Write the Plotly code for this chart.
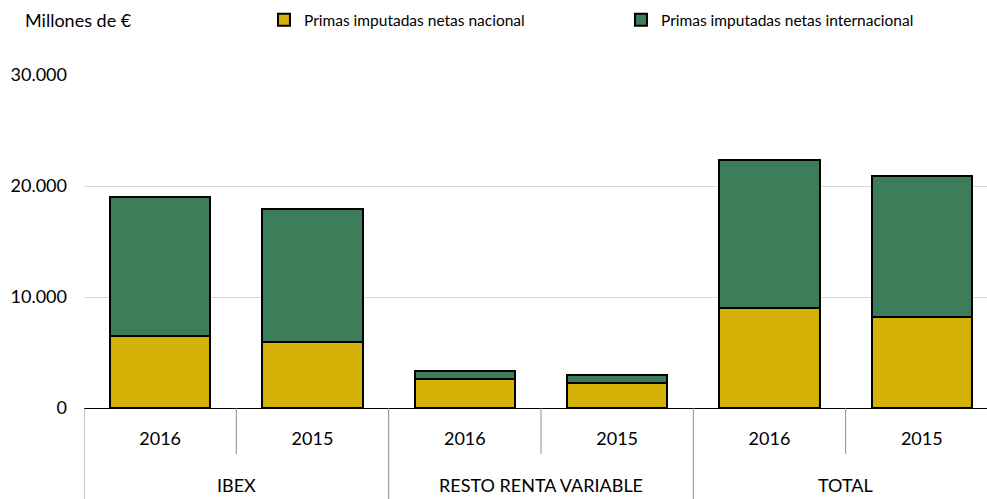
import plotly.graph_objects as go

# Grupos y años del eje X
groups = ["IBEX", "IBEX", "RESTO RENTA VARIABLE", "RESTO RENTA VARIABLE", "TOTAL", "TOTAL"]
years = ["2016", "2015", "2016", "2015", "2016", "2015"]

# Primas imputadas netas (millones de €)
nacional = [6450, 5950, 2580, 2220, 9030, 8170]
internacional = [12550, 11980, 720, 720, 13270, 12700]

y_ticks = [0, 10000, 20000, 30000]

GOLD = "#D3B107"
GREEN = "#3E7D5A"
SEP = "#8C8C8C"
FONT = "Lato"

# Categorías únicas (grupo + año); las etiquetas visibles son solo los años
cats = [f"{g} {y}" for g, y in zip(groups, years)]

fig = go.Figure()
fig.add_trace(go.Bar(
    x=cats, y=nacional, name="Primas imputadas netas nacional",
    marker=dict(color=GOLD, line=dict(color="black", width=2)), width=0.66,
))
fig.add_trace(go.Bar(
    x=cats, y=internacional, name="Primas imputadas netas internacional",
    marker=dict(color=GREEN, line=dict(color="black", width=2)), width=0.66,
))

# Etiquetas de grupo y separadores bajo el eje
group_names = list(dict.fromkeys(groups))
annotations = [dict(
    text="Millones de €", xref="paper", yref="paper",
    x=-0.0676, y=1.165, xanchor="left", yanchor="middle",
    showarrow=False, font=dict(size=18),
)]
shapes = []
for name in group_names:
    idx = [i for i, g in enumerate(groups) if g == name]
    first, last = idx[0], idx[-1]
    annotations.append(dict(
        text=name, xref="x", yref="paper", x=(first + last) / 2, y=-0.23,
        xanchor="center", yanchor="middle", showarrow=False, font=dict(size=18),
    ))
    # separador largo al inicio del grupo
    shapes.append(dict(type="line", xref="x", yref="paper", x0=first - 0.5, x1=first - 0.5,
                       y0=0, y1=-0.28, line=dict(color=SEP, width=1)))
    # separadores cortos entre años del grupo
    for i in idx[1:]:
        shapes.append(dict(type="line", xref="x", yref="paper", x0=i - 0.5, x1=i - 0.5,
                           y0=0, y1=-0.138, line=dict(color=SEP, width=1)))

fig.update_layout(
    barmode="stack",
    width=987, height=499,
    margin=dict(l=84, r=0, t=75, b=91),
    plot_bgcolor="white", paper_bgcolor="white",
    separators=",.",
    font=dict(family=FONT, size=18, color="black"),
    legend=dict(
        orientation="h", traceorder="normal",
        x=0.1993, xanchor="left", y=1.165, yanchor="middle",
        font=dict(size=15.5), entrywidth=312, itemwidth=30,
        bgcolor="rgba(0,0,0,0)",
    ),
    annotations=annotations,
    shapes=shapes,
)

fig.update_yaxes(
    range=[0, 30000], tickvals=y_ticks, tickformat=",d",
    showgrid=True, gridcolor="#D9D9D9", gridwidth=1,
    zeroline=False, showline=False, ticks="", ticklabelstandoff=16,
)
fig.update_xaxes(
    type="category", range=[-0.5, 5.428], automargin=False,
    tickvals=cats, ticktext=years,
    showline=True, linecolor="black", linewidth=1,
    ticks="", ticklabelstandoff=14,
)

fig.write_html("out.html")
